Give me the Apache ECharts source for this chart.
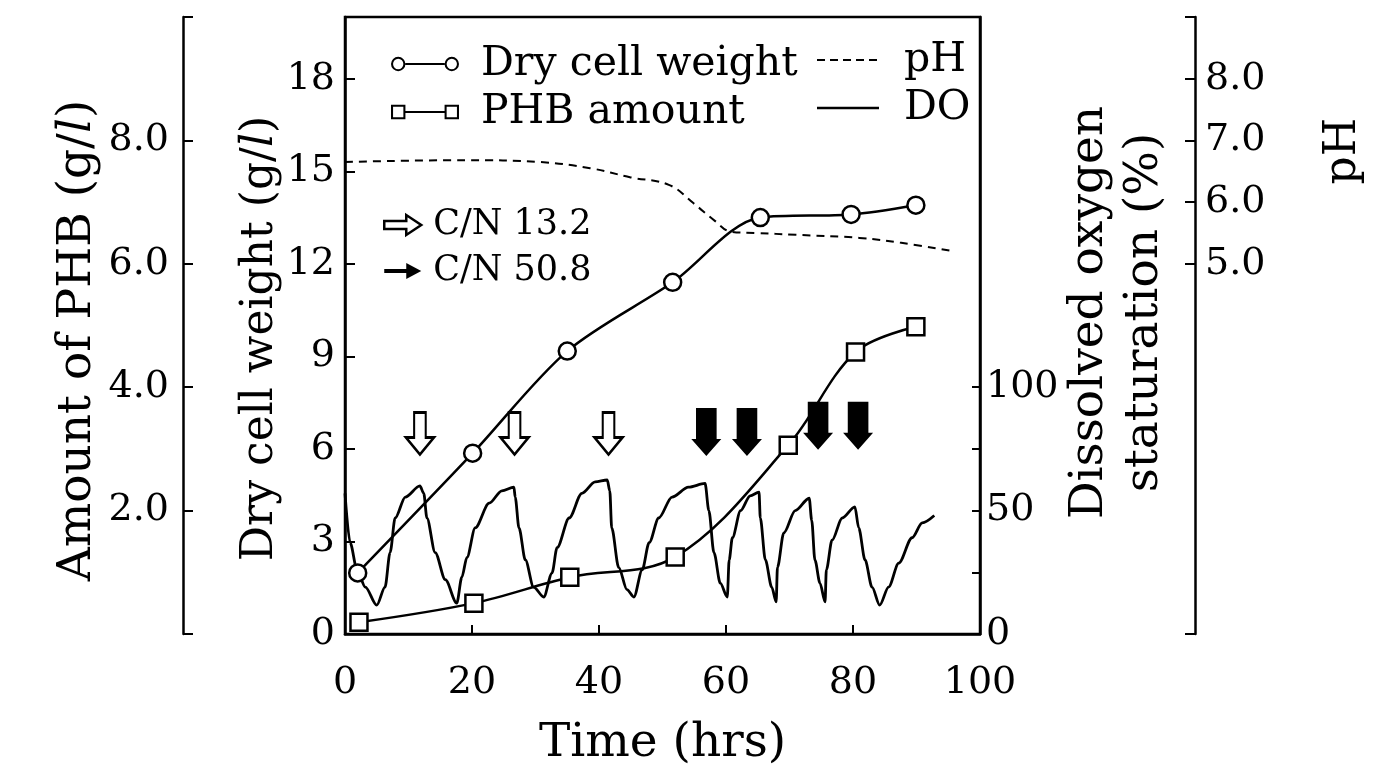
<!DOCTYPE html>
<html>
<head>
<meta charset="utf-8">
<script src="https://cdn.jsdelivr.net/npm/echarts@6/dist/echarts.min.js"></script>
<style>html,body{margin:0;padding:0;background:#fff}#c{width:1382px;height:771px}</style>
</head>
<body>
<div id="c"></div>
<script>
// ---- data ----
const timeDCW = [2, 20.1, 35, 51.6, 65.4, 79.7, 89.9];
const dcw     = [1.98, 5.86, 9.17, 11.4, 13.5, 13.6, 13.9];

const timePHB = [2.2, 20.3, 35.4, 52, 69.8, 80.4, 89.9];
const phb     = [0.19, 0.5, 0.92, 1.25, 3.06, 4.57, 4.98];

const timePH = [0, 19, 30.7, 38.6, 45, 51, 54.9, 58.2, 60.8, 64.7, 71, 81, 87.6, 96];
const ph     = [6.65, 6.68, 6.65, 6.55, 6.4, 6.28, 5.98, 5.7, 5.52, 5.5, 5.47, 5.42, 5.34, 5.2];

const timeDO = [0, 0.8, 1.9, 3.2, 5.0, 6.3, 7.1, 7.9, 9.5, 11.8, 12.4, 12.9, 14.2, 15.8, 17.6,
  18.4, 19.2, 20.5, 22.7, 24.7, 26.6, 26.8, 27.4, 28.4, 29.7, 31.3,
  32.6, 33.4, 35.3, 37.3, 39.4, 41.3, 41.7, 42.0, 43.1, 44.4, 45.5,
  46.8, 47.9, 49.4, 51.5, 54.1, 56.7, 57.3, 58.1, 59.1, 60.2,
  60.5, 61, 62.3, 63.8, 65.2, 65.4, 66.2, 67.2, 67.9,
  68.1, 69.1, 70.9, 73.1, 73.5, 74, 74.8, 75.6,
  75.8, 76.7, 78.3, 80.3, 80.9, 81.9, 83, 84.2,
  85.6, 87.2, 89.3, 90.9, 92.8];
const doSat = [57, 37, 26, 19, 11.7, 19, 33, 47, 55.5, 60, 57, 47, 33, 22, 12.5,
  23, 31, 43, 53, 58, 59.5, 55.5, 43, 30, 19, 15,
  24.7, 35, 47, 57, 61.6, 62.4, 58, 43, 27, 18, 15,
  26, 37, 47, 55.5, 59.5, 61, 50, 33, 20.6, 15,
  30, 39, 50, 56, 57.5, 47, 30, 19, 13,
  27, 41, 50, 55, 46, 30, 20.6, 13,
  26, 38, 47, 51.5, 43, 30, 19, 11.7,
  19, 28.7, 39, 45, 48];

// feeding events (time, vertical position on dry-cell-weight scale)
const feedCN132Time = [11.8, 26.7, 41.5];
const feedCN132Pos  = [6.5, 6.5, 6.5];
const feedCN508Time = [56.9, 63.3, 74.5, 80.8];
const feedCN508Pos  = [6.55, 6.55, 6.75, 6.75];

// tick labels
const xTicks   = [0, 20, 40, 60, 80, 100];
const dcwTicks = [0, 3, 6, 9, 12, 15, 18];
const phbTicks = [2, 4, 6, 8];
const doTicks  = [0, 50, 100];
const phTicks  = [5, 6, 7, 8];

// ---- chart ----
const FONT = 'DejaVu Serif';
const zip = (a, b) => a.map((v, i) => [v, b[i]]);

const ringCircle = 'path://M1,8 A7,7 0 1,0 15,8 A7,7 0 1,0 1,8 Z M3,8 A5,5 0 1,1 13,8 A5,5 0 1,1 3,8 Z M15,7 L53,7 L53,9 L15,9 Z M53,8 A7,7 0 1,0 67,8 A7,7 0 1,0 53,8 Z M55,8 A5,5 0 1,1 65,8 A5,5 0 1,1 55,8 Z';
const ringRect = 'path://M1,1 L15,1 L15,15 L1,15 Z M3,3 L3,13 L13,13 L13,3 Z M15,7 L53,7 L53,9 L15,9 Z M53,1 L67,1 L67,15 L53,15 Z M55,3 L55,13 L65,13 L65,3 Z';
const dashIcon = 'path://M0,0 L0,14 M0,6 L8,6 L8,8 L0,8 Z M13,6 L21,6 L21,8 L13,8 Z M26,6 L34,6 L34,8 L26,8 Z M39,6 L47,6 L47,8 L39,8 Z M52,6 L60,6 L60,8 L52,8 Z M62,0 L62,14';
const solidIcon = 'path://M0,0 L0,14 M0,5.8 L62,5.8 L62,8.2 L0,8.2 Z M62,0 L62,14';
const arrowRightHollow = 'path://M0,6 L22,6 L22,0 L37,10 L22,20 L22,14 L0,14 Z';
const arrowRightSolid  = 'path://M0,8 L22,8 L22,2 L37,10 L22,18 L22,12 L0,12 Z';
const arrowDownHollow  = 'path://M8.5,0 L20.5,0 L20.5,25 L29,25 L14.5,42 L0,25 L8.5,25 Z';
const arrowDownSolid   = 'path://M5,0 L27,0 L27,31 L32,31 L16,48 L0,31 L5,31 Z';

const axisLineStyle = {show: true, lineStyle: {color: '#000', width: 2.5}};
const labelStyle = {color: '#000', fontFamily: FONT, fontSize: 38};
const nameStyle = (size, extra) => Object.assign({color: '#000', fontFamily: FONT, fontSize: size,
  rich: {it: {fontStyle: 'italic', fontFamily: FONT, fontSize: size, color: '#000'}}}, extra || {});

const chart = echarts.init(document.getElementById('c'), null, {renderer: 'canvas'});
chart.setOption({
  backgroundColor: '#fff',
  animation: false,
  grid: {left: 345, right: 402, top: 17, bottom: 137, show: true, borderColor: '#000', borderWidth: 2.5,
         containLabel: false, outerBoundsMode: 'none'},
  xAxis: {
    type: 'value', min: 0, max: 100, interval: 20,
    axisLine: axisLineStyle,
    axisTick: {inside: true, length: 9, lineStyle: {color: '#000', width: 2}, customValues: xTicks},
    axisLabel: Object.assign({margin: 30, customValues: xTicks}, labelStyle),
    splitLine: {show: false},
    name: 'Time (hrs)', nameLocation: 'middle', nameGap: 86,
    nameTextStyle: {color: '#000', fontFamily: FONT, fontSize: 47}
  },
  yAxis: [
    { // dry cell weight
      type: 'value', position: 'left', min: 0, max: 20, interval: 1,
      axisLine: axisLineStyle,
      axisTick: {inside: true, length: 10, lineStyle: {color: '#000', width: 2}, customValues: dcwTicks},
      axisLabel: Object.assign({margin: 10, customValues: dcwTicks}, labelStyle),
      splitLine: {show: false},
      name: 'Dry cell weight (g/{it|l})', nameLocation: 'middle', nameGap: 62, nameRotate: 90,
      nameTextStyle: nameStyle(44, {padding: [0, 26, 0, 0]})
    },
    { // PHB
      type: 'value', position: 'left', offset: 162, min: 0, max: 10, interval: 2,
      axisLine: axisLineStyle,
      axisTick: {inside: true, length: 10, lineStyle: {color: '#000', width: 2}, customValues: [0, 2, 4, 6, 8, 10]},
      axisLabel: Object.assign({margin: 14, customValues: phbTicks, formatter: v => v.toFixed(1)}, labelStyle),
      splitLine: {show: false},
      name: 'Amount of PHB (g/{it|l})', nameLocation: 'middle', nameGap: 82, nameRotate: 90,
      nameTextStyle: nameStyle(47, {padding: [0, 30, 0, 0]})
    },
    { // dissolved oxygen
      type: 'value', position: 'right', min: 0, max: 250, interval: 25,
      axisLine: axisLineStyle,
      axisTick: {inside: true, length: 8, lineStyle: {color: '#000', width: 2}, customValues: [0, 25, 50, 75, 100]},
      axisLabel: Object.assign({margin: 6, customValues: doTicks}, labelStyle),
      splitLine: {show: false},
      name: 'Dissolved oxygen\nstaturation (%)', nameLocation: 'middle', nameGap: 80, nameRotate: 90,
      nameTextStyle: nameStyle(47, {lineHeight: 55, padding: [0, 0, 0, 26]})
    },
    { // pH
      type: 'value', position: 'right', offset: 215, min: -1, max: 9, interval: 1,
      axisLine: axisLineStyle,
      axisTick: {inside: true, length: 10, lineStyle: {color: '#000', width: 2}, customValues: [-1, 5, 6, 7, 8, 9]},
      axisLabel: Object.assign({margin: 10, customValues: phTicks, formatter: v => v.toFixed(1)}, labelStyle),
      splitLine: {show: false}
    }
  ],
  legend: [
    {
      left: 386, top: 35, orient: 'vertical', itemWidth: 68, itemHeight: 16, itemGap: 0,
      textStyle: {color: '#000', fontFamily: FONT, fontSize: 41, lineHeight: 48, padding: [0, 0, 0, 17]},
      selectedMode: false,
      data: [
        {name: 'Dry cell weight', icon: ringCircle, itemStyle: {color: '#000', borderWidth: 0, opacity: 1}},
        {name: 'PHB amount', icon: ringRect, itemStyle: {color: '#000', borderWidth: 0, opacity: 1}}
      ]
    },
    {
      left: 812, top: 31, orient: 'vertical', itemWidth: 62, itemHeight: 14, itemGap: 0,
      textStyle: {color: '#000', fontFamily: FONT, fontSize: 41, lineHeight: 48, padding: [0, 0, 0, 20]},
      selectedMode: false,
      data: [
        {name: 'pH', icon: dashIcon, itemStyle: {color: '#000', borderWidth: 0, opacity: 1}},
        {name: 'DO', icon: solidIcon, itemStyle: {color: '#000', borderWidth: 0, opacity: 1}}
      ]
    },
    {
      left: 378, top: 197, orient: 'vertical', itemWidth: 37, itemHeight: 20, itemGap: 0,
      textStyle: {color: '#000', fontFamily: FONT, fontSize: 35, lineHeight: 46, padding: [0, 0, 0, 7]},
      selectedMode: false,
      data: [
        {name: 'C/N 13.2', icon: arrowRightHollow, itemStyle: {color: '#fff', borderColor: '#000', borderWidth: 2.5, opacity: 1}},
        {name: 'C/N 50.8', icon: arrowRightSolid, itemStyle: {color: '#000', borderWidth: 0, opacity: 1}}
      ]
    }
  ],
  graphic: [
    {type: 'text', left: 1322, top: 118, rotation: Math.PI / 2,
     style: {text: 'pH', font: '44px "DejaVu Serif"', fill: '#000'}}
  ],
  series: [
    {
      name: 'DO', type: 'line', yAxisIndex: 2, data: zip(timeDO, doSat),
      showSymbol: false, symbol: 'none', smooth: 0.3, smoothMonotone: 'x',
      lineStyle: {color: '#000', width: 2.8}, itemStyle: {color: '#000'}, z: 3
    },
    {
      name: 'pH', type: 'line', yAxisIndex: 3, data: zip(timePH, ph),
      showSymbol: false, symbol: 'none', smooth: 0.4,
      lineStyle: {color: '#000', width: 2, type: [8, 6]}, itemStyle: {color: '#000'}, z: 3
    },
    {
      name: 'Dry cell weight', type: 'line', yAxisIndex: 0, data: zip(timeDCW, dcw),
      smooth: 0.3, symbol: 'circle', symbolSize: 17,
      lineStyle: {color: '#000', width: 2.5},
      itemStyle: {color: '#fff', borderColor: '#000', borderWidth: 2.5}, z: 5
    },
    {
      name: 'PHB amount', type: 'line', yAxisIndex: 1, data: zip(timePHB, phb),
      smooth: 0.35, symbol: 'rect', symbolSize: 17,
      lineStyle: {color: '#000', width: 2.5},
      itemStyle: {color: '#fff', borderColor: '#000', borderWidth: 2.5}, z: 5
    },
    {
      name: 'C/N 13.2', type: 'scatter', yAxisIndex: 0, data: zip(feedCN132Time, feedCN132Pos),
      symbol: arrowDownHollow, symbolSize: [28, 42],
      itemStyle: {color: '#fff', borderColor: '#000', borderWidth: 2.5, opacity: 1}, z: 6
    },
    {
      name: 'C/N 50.8', type: 'scatter', yAxisIndex: 0, data: zip(feedCN508Time, feedCN508Pos),
      symbol: arrowDownSolid, symbolSize: [30, 48],
      itemStyle: {color: '#000', opacity: 1}, z: 6
    }
  ]
});
</script>
</body>
</html>
